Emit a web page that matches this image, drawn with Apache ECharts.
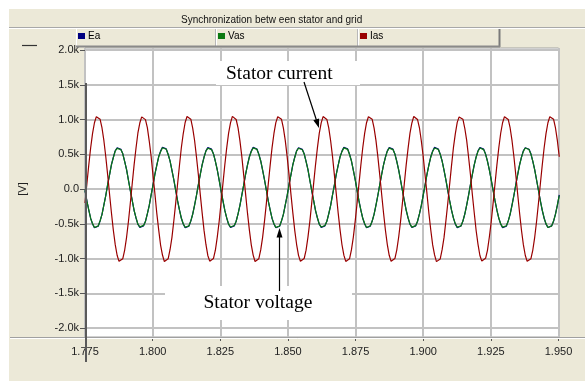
<!DOCTYPE html>
<html>
<head>
<meta charset="utf-8">
<script src="https://cdn.jsdelivr.net/npm/echarts@6/dist/echarts.min.js"></script>
<style>
  html, body { margin: 0; padding: 0; background: #fff; }
  #chart { width: 585px; height: 381px; }
</style>
</head>
<body>
<div id="chart"></div>
<script>
// Recorder samples: 24 per grid cycle (~59.7 Hz), starting at t = 1.775 s
const sampleStart = 1.775;
const sampleStep = 0.01676 / 24;

const seriesNames = ['Ea', 'Vas', 'Ias'];
const seriesColors = ['#000080', '#0b7a12', '#990000'];

const xTicks = { min: 1.775, max: 1.950, step: 0.025 };
const yTicks = { min: -2000, max: 2000, step: 500 };

// Grid voltage Ea [V]
const ea = [
  -20, -172, -304, -423, -503, -558, -563, -535, -459, -364, -230, -93, 65, 207, 351, 457, 551, 594, 609, 571, 506, 397, 278, 126,
  -24, -167, -310, -417, -508, -553, -569, -530, -465, -357, -236, -86, 59, 214, 345, 466, 545, 600, 604, 577, 500, 404, 272, 133,
  -21, -171, -305, -421, -504, -557, -565, -534, -461, -362, -232, -90, 63, 210, 349, 460, 549, 596, 608, 573, 504, 399, 276, 129,
  -23, -168, -309, -418, -507, -554, -568, -531, -464, -358, -235, -87, 60, 213, 346, 464, 546, 599, 605, 576, 501, 403, 273, 132,
  -20, -172, -304, -423, -503, -558, -563, -535, -459, -364, -230, -93, 65, 207, 351, 457, 551, 594, 609, 571, 506, 397, 278, 126,
  -24, -167, -310, -417, -508, -553, -569, -530, -465, -357, -236, -86, 59, 214, 345, 466, 545, 600, 604, 577, 500, 404, 272, 133,
  -21, -171, -305, -421, -504, -557, -565, -534, -461, -362, -232, -90, 63, 210, 349, 460, 549, 596, 608, 573, 504, 399, 276, 129,
  -23, -168, -309, -418, -507, -554, -568, -531, -464, -358, -235, -87, 60, 213, 346, 464, 546, 599, 605, 576, 501, 403, 273, 132,
  -22, -170, -307, -420, -505, -556, -566, -533, -462, -360, -233, -89, 62, 211, 348, 462, 548, 597, 607, 574, 503, 401, 275, 130,
  -20, -172, -304, -423, -503, -558, -563, -535, -459, -364, -230, -93, 65, 207, 351, 457, 551, 594, 609, 571, 506, 397, 278, 126,
  -24, -167, -310, -417, -508, -553, -569, -530, -465, -357, -236, -86
];

// Stator voltage Vas [V]
const vas = [
  -18, -175, -300, -424, -498, -553, -556, -531, -457, -366, -229, -95, 66, 203, 350, 452, 547, 585, 602, 564, 506, 394, 279, 124,
  -25, -164, -309, -413, -507, -545, -562, -524, -466, -355, -239, -85, 56, 214, 340, 463, 537, 593, 596, 572, 496, 405, 269, 135,
  -16, -172, -302, -421, -499, -551, -557, -530, -459, -363, -231, -93, 64, 206, 348, 455, 545, 587, 601, 566, 504, 397, 277, 127,
  -23, -166, -308, -415, -505, -547, -561, -526, -464, -357, -237, -87, 58, 212, 342, 461, 539, 591, 597, 570, 498, 403, 271, 133,
  -19, -174, -301, -423, -500, -552, -555, -532, -458, -365, -230, -94, 65, 204, 349, 453, 546, 586, 603, 565, 505, 395, 278, 125,
  -24, -165, -307, -414, -506, -546, -563, -525, -465, -356, -238, -86, 57, 213, 341, 462, 538, 592, 595, 571, 497, 404, 270, 134,
  -17, -173, -303, -422, -497, -554, -558, -529, -460, -364, -232, -92, 63, 207, 347, 456, 544, 588, 600, 567, 503, 398, 276, 128,
  -22, -167, -306, -416, -504, -548, -560, -527, -463, -358, -236, -88, 59, 211, 343, 460, 540, 590, 598, 569, 499, 402, 272, 132,
  -20, -171, -304, -419, -501, -550, -557, -530, -461, -361, -233, -91, 62, 208, 346, 457, 543, 589, 601, 566, 502, 399, 275, 129,
  -21, -169, -305, -418, -502, -549, -559, -528, -461, -360, -234, -90, 61, 209, 345, 458, 542, 589, 599, 568, 501, 400, 274, 130,
  -18, -175, -300, -424, -498, -553, -556, -531, -457, -366, -229, -95
];

// Stator current Ias (same vertical scale)
const ias = [
  -201, 75, 346, 593, 801, 953, 1041, 1057, 1002, 878, 695, 464, 201, -75, -346, -593, -801, -953, -1041, -1057, -1002, -878, -695, -464,
  -198, 80, 351, 590, 806, 949, 1038, 1060, 998, 882, 690, 468, 196, -70, -350, -589, -806, -950, -1044, -1054, -1005, -874, -699, -460,
  -204, 72, 342, 597, 798, 957, 1043, 1055, 1005, 875, 698, 461, 205, -78, -343, -596, -798, -956, -1038, -1059, -999, -881, -692, -467,
  -199, 78, 349, 591, 804, 951, 1045, 1058, 1000, 880, 693, 466, 199, -73, -348, -591, -803, -951, -1043, -1056, -1003, -876, -697, -462,
  -203, 73, 344, 595, 799, 955, 1039, 1061, 1003, 876, 697, 462, 203, -77, -344, -595, -799, -955, -1040, -1058, -1000, -880, -693, -466,
  -200, 77, 348, 592, 803, 952, 1042, 1056, 1001, 879, 694, 465, 200, -74, -347, -592, -802, -952, -1042, -1055, -1004, -877, -696, -463,
  -202, 74, 345, 594, 800, 954, 1040, 1059, 1002, 877, 696, 463, 202, -76, -345, -594, -800, -954, -1041, -1057, -1001, -879, -694, -465,
  -197, 79, 350, 589, 805, 950, 1044, 1057, 999, 881, 691, 467, 197, -71, -349, -590, -805, -949, -1045, -1053, -1006, -873, -700, -459,
  -205, 71, 343, 598, 797, 958, 1037, 1062, 1004, 874, 699, 460, 206, -79, -342, -597, -797, -957, -1037, -1060, -998, -882, -691, -468,
  -200, 76, 347, 593, 802, 953, 1041, 1057, 1001, 878, 695, 464, 201, -75, -346, -593, -801, -953, -1041, -1057, -1002, -878, -695, -464,
  -201, 75, 346, 593, 801, 953, 1041, 1057, 1002, 878, 695, 464
];

const sansFont = '"Liberation Sans", Arial, sans-serif';
const serifFont = '"Liberation Serif", "Times New Roman", serif';
const panel = '#ECE9D8';

function toPairs(values) {
  return values.map((v, k) => [sampleStart + k * sampleStep, v]);
}

function kiloLabel(v) {
  if (v === 0) return '0.0';
  return (v / 1000).toFixed(1) + 'k';
}

const chart = echarts.init(document.getElementById('chart'), null, { renderer: 'canvas' });

const legendSlots = [76, 216, 358];

const option = {
  animation: false,
  backgroundColor: panel,
  title: {
    text: 'Synchronization betw een stator and grid',
    left: 181,
    top: 15,
    padding: 0,
    textStyle: { fontFamily: sansFont, fontSize: 10, fontWeight: 'normal', color: '#111' }
  },
  legend: seriesNames.map((name, i) => ({
    data: [name],
    left: legendSlots[i] + 2,
    top: 31,
    padding: 0,
    itemWidth: 7,
    itemHeight: 6,
    icon: 'rect',
    itemStyle: { borderWidth: 0 },
    textStyle: { fontFamily: sansFont, fontSize: 10, color: '#000', padding: [0, 0, 0, -2] }
  })),
  grid: [
    // outer plot frame: carries the time axis and its vertical grid
    { left: 85, right: 26.5, top: 48, bottom: 44, show: true, backgroundColor: '#fff', borderColor: '#a3a3a3', borderWidth: 1 },
    // value frame: carries the voltage scale and the traces
    { left: 85, right: 26.5, top: 50, bottom: 53 }
  ],
  xAxis: [
    {
      gridIndex: 0,
      type: 'value',
      min: xTicks.min,
      max: xTicks.max,
      interval: xTicks.step,
      axisLine: { show: true, lineStyle: { color: '#9a9a9a', width: 1 } },
      axisTick: { show: true, length: 4, lineStyle: { color: '#555' } },
      axisLabel: { formatter: v => v.toFixed(3), fontFamily: sansFont, fontSize: 11, color: '#222', margin: 9 },
      splitLine: { show: true, lineStyle: { color: '#c2c2c2', width: 2 } }
    },
    { gridIndex: 1, type: 'value', min: xTicks.min, max: xTicks.max, show: false }
  ],
  yAxis: [
    { gridIndex: 0, type: 'value', min: 0, max: 1, show: false },
    {
      gridIndex: 1,
      type: 'value',
      min: yTicks.min,
      max: yTicks.max,
      interval: yTicks.step,
      name: '[V]',
      nameLocation: 'middle',
      nameRotate: 90,
      nameGap: 57,
      nameTextStyle: { fontFamily: sansFont, fontSize: 11, color: '#222' },
      axisLine: { show: false },
      axisTick: { show: true, length: 5, lineStyle: { color: '#555' } },
      axisLabel: { formatter: kiloLabel, fontFamily: sansFont, fontSize: 11, color: '#222', margin: 6 },
      splitLine: { show: true, lineStyle: { color: '#c2c2c2', width: 2 } }
    }
  ],
  series: [ea, vas, ias].map((values, i) => ({
    name: seriesNames[i],
    type: 'line',
    xAxisIndex: 1,
    yAxisIndex: 1,
    data: toPairs(values),
    showSymbol: false,
    symbol: 'none',
    clip: true,
    color: seriesColors[i],
    lineStyle: { color: seriesColors[i], width: 1.2 },
    z: 2 + i
  })),
  graphic: [
    // white page margin around the panel
    { type: 'rect', shape: { x: 0, y: 0, width: 585, height: 9 }, style: { fill: '#fff' }, z: 0 },
    { type: 'rect', shape: { x: 0, y: 0, width: 9, height: 381 }, style: { fill: '#fff' }, z: 0 },
    // title bar separator
    { type: 'line', shape: { x1: 9, y1: 27.5, x2: 585, y2: 27.5 }, style: { stroke: '#a8a8a8', lineWidth: 1 }, z: 1 },
    { type: 'line', shape: { x1: 9, y1: 28.5, x2: 585, y2: 28.5 }, style: { stroke: '#fff', lineWidth: 1 }, z: 1 },
    // legend cells (raised buttons)
    ...legendSlots.flatMap((x0, i) => {
      const x1 = i < 2 ? legendSlots[i + 1] : 500;
      return [
        { type: 'line', shape: { x1: x0 + 0.5, y1: 29, x2: x0 + 0.5, y2: 47 }, style: { stroke: '#fff', lineWidth: 1 }, z: 1 },
        { type: 'line', shape: { x1: x1 - 0.5, y1: 29, x2: x1 - 0.5, y2: 47 }, style: { stroke: i < 2 ? '#b8b8b8' : '#7a7a7a', lineWidth: i < 2 ? 1 : 2 }, z: 1 },
        { type: 'line', shape: { x1: x0, y1: 46.5, x2: x1, y2: 46.5 }, style: { stroke: '#8a8a8a', lineWidth: 2 }, z: 1 }
      ];
    }),
    // unit marker above the scale
    { type: 'line', shape: { x1: 22, y1: 45.5, x2: 37, y2: 45.5 }, style: { stroke: '#333', lineWidth: 1.2 }, z: 1 },
    // bottom separator of the plot panel
    { type: 'line', shape: { x1: 10, y1: 337.5, x2: 585, y2: 337.5 }, style: { stroke: '#a0a0a0', lineWidth: 1 }, z: 1 },
    { type: 'line', shape: { x1: 10, y1: 338.5, x2: 585, y2: 338.5 }, style: { stroke: '#fff', lineWidth: 1 }, z: 1 },
    // time cursor at the start of the window
    { type: 'line', shape: { x1: 86, y1: 83, x2: 86, y2: 362 }, style: { stroke: '#5a5a5a', lineWidth: 2 }, z: 6 },
    // annotation boxes
    { type: 'rect', shape: { x: 216, y: 61, width: 144, height: 24 }, style: { fill: '#fff' }, z: 1 },
    { type: 'rect', shape: { x: 165, y: 286, width: 187, height: 34 }, style: { fill: '#fff' }, z: 1 },
    {
      type: 'text', x: 226, y: 73.5,
      style: { text: 'Stator current', font: '19.5px ' + serifFont, fill: '#000', verticalAlign: 'middle', align: 'left' },
      z: 5
    },
    {
      type: 'text', x: 203.5, y: 302.5,
      style: { text: 'Stator voltage', font: '19.5px ' + serifFont, fill: '#000', verticalAlign: 'middle', align: 'left' },
      z: 5
    },
    // arrows
    { type: 'line', shape: { x1: 304, y1: 82, x2: 316.4, y2: 120 }, style: { stroke: '#000', lineWidth: 1.2 }, z: 5 },
    { type: 'polygon', shape: { points: [[319, 128], [319.1, 118.4], [313.3, 120.3]] }, style: { fill: '#000' }, z: 5 },
    { type: 'line', shape: { x1: 279.5, y1: 236, x2: 279.5, y2: 291 }, style: { stroke: '#000', lineWidth: 1.2 }, z: 5 },
    { type: 'polygon', shape: { points: [[279.5, 228], [276.5, 237.5], [282.5, 237.5]] }, style: { fill: '#000' }, z: 5 }
  ]
};

chart.setOption(option);
</script>
</body>
</html>
